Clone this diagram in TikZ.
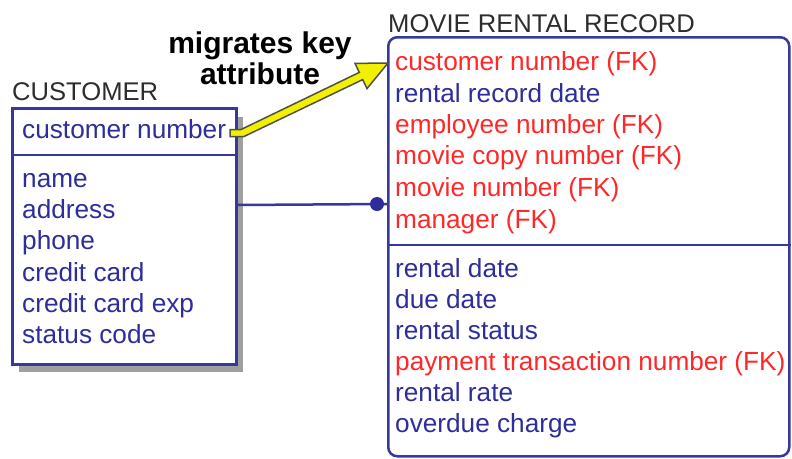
\documentclass[tikz,border=0pt]{standalone}
\usepackage{fontspec}
\setmainfont{Liberation Sans}
\usetikzlibrary{calc}
\definecolor{navy}{RGB}{45,45,155}
\definecolor{fkred}{RGB}{255,40,40}
\definecolor{boxline}{RGB}{55,55,160}
\definecolor{ttl}{RGB}{45,45,45}
\definecolor{arrowyellow}{RGB}{240,240,0}
\definecolor{arrowedge}{RGB}{80,80,70}
\tikzset{
  attr/.style={anchor=base west, inner sep=0pt, text=navy, font=\fontsize{26.2}{30}\selectfont},
  fkattr/.style={attr, text=fkred},
  title/.style={anchor=base west, inner sep=0pt, text=ttl, font=\fontsize{25.6}{30}\selectfont},
  entity/.style={draw=boxline, line width=2.5pt, fill=white, inner sep=0pt, anchor=north west},
  rel/.style={draw=boxline, line width=2.5pt},
  note/.style={inner sep=0pt, align=center, text=black, font=\bfseries\fontsize{30}{31}\selectfont}
}
\begin{document}
\begin{tikzpicture}[x=1pt,y=-1pt]
\useasboundingbox (0,0) rectangle (792,458);
% CUSTOMER entity
\fill[gray!75] (19,117) rectangle (243,372);
\node[entity, minimum width=224pt, minimum height=256pt] (cust) at (11,107) {};
\draw[boxline, line width=2.5pt] (cust.west |- 0,155) -- (cust.east |- 0,155);
\node[title] (custtitle) at (12,100) {CUSTOMER};
\node[attr] (c1) at (22,138) {customer number};
\node[attr] (c2) at (22,187) {name};
\node[attr] (c3) at (22,218) {address};
\node[attr] (c4) at (22,249) {phone};
\node[attr] (c5) at (22,281) {credit card};
\node[attr] (c6) at (22,312) {credit card exp};
\node[attr] (c7) at (22,343) {status code};
% MOVIE RENTAL RECORD entity
\node[entity, rounded corners=9pt, minimum width=401pt, minimum height=419pt] (movie) at (387,36) {};
\draw[boxline, line width=2.5pt] (movie.west |- 0,245) -- (movie.east |- 0,245);
\node[title] (movietitle) at (388,32) {MOVIE RENTAL RECORD};
\node[fkattr] (m1) at (395,70) {customer number (FK)};
\node[attr] (m2) at (395,102) {rental record date};
\node[fkattr] (m3) at (395,133) {employee number (FK)};
\node[fkattr] (m4) at (395,164) {movie copy number (FK)};
\node[fkattr] (m5) at (395,196) {movie number (FK)};
\node[fkattr] (m6) at (395,228) {manager (FK)};
\node[attr] (m7) at (395,277) {rental date};
\node[attr] (m8) at (395,308) {due date};
\node[attr] (m9) at (395,339) {rental status};
\node[fkattr] (m10) at (395,370) {payment transaction number (FK)};
\node[attr] (m11) at (395,401) {rental rate};
\node[attr] (m12) at (395,432) {overdue charge};
% relationship
\coordinate (relA) at (cust.east |- 0,205);
\coordinate (relB) at (movie.west |- 0,204);
\draw[rel] (relA) -- (relB);
\fill[navy] ($(relB)+(-10,0)$) circle (7pt);
% migrates key annotation
\node[note] (mig) at (260,58) {migrates key\\attribute};
\filldraw[fill=arrowyellow, draw=arrowedge, line width=1.5pt, line join=miter]
  (230,129.5) -- (241,129.5) -- (359.3,72.4) -- (355,63.4) -- (388,63)
  -- (367,88.6) -- (362.7,79.6) -- (244,136.5) -- (230,136.5) -- cycle;
\end{tikzpicture}
\end{document}
